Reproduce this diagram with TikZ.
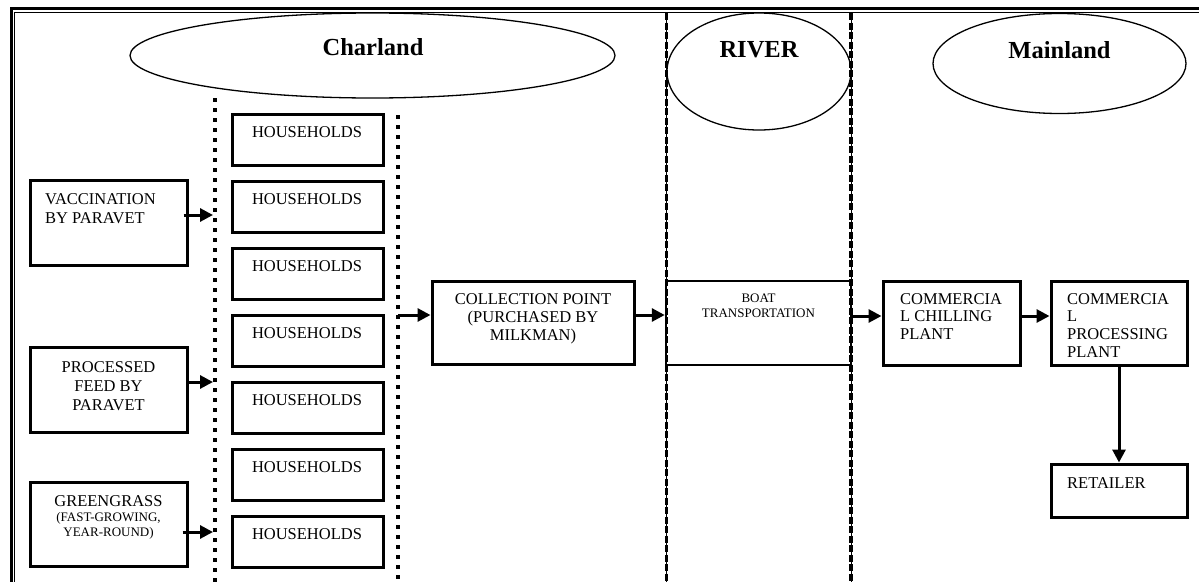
\documentclass[tikz,border=0pt]{standalone}
\usepackage{fontspec}
\setmainfont{Liberation Serif}
\usetikzlibrary{shapes.geometric,arrows.meta}
\begin{document}
\begin{tikzpicture}[x=1pt,y=-1pt,
  region/.style={draw, ellipse, line width=1.3pt, inner sep=0pt},
  regiontext/.style={anchor=base, inner sep=0pt, font=\fontsize{24.5}{28}\selectfont\bfseries},
  box/.style={draw, rectangle, line width=3pt, inner sep=0pt},
  txt/.style={inner sep=0pt, font=\fontsize{16.5}{19}\selectfont},
  smalltxt/.style={inner sep=0pt, font=\fontsize{13}{15}\selectfont},
  arr/.style={line width=3pt, -{Triangle[length=13pt,width=13pt]}},
  dotline/.style={line width=4pt, dash pattern=on 4pt off 6pt},
  riverthin/.style={line width=1pt},
  riverdash/.style={line width=3.5pt, dash pattern=on 7pt off 2.5pt}
]
\useasboundingbox (0,0) rectangle (1199,581);
\clip (0,0) rectangle (1199,581);
\fill[white] (0,0) rectangle (1199,581);

% frame
\draw[line width=3pt] (1300,8.5) -- (11.3,8.5) -- (11.3,700);
\draw[line width=1.2pt] (1300,12.8) -- (14.6,12.8) -- (14.6,700);

% regions
\node[region, minimum width=485pt, minimum height=85pt] (charland) at (372.5,55.5) {};
\node[regiontext] (charlandtxt) at (373,55) {Charland};
\node[region, minimum width=184pt, minimum height=117pt] (river) at (759,71.5) {};
\node[regiontext] (rivertxt) at (759,57) {RIVER};
\node[region, minimum width=253pt, minimum height=100pt] (mainland) at (1059.5,63.5) {};
\node[regiontext] (mainlandtxt) at (1059.5,58) {Mainland};

% boundary lines
\coordinate (dAtop) at (214.5,98);
\coordinate (dAbot) at (214.5,700);
\coordinate (dBtop) at (398,115);
\coordinate (dBbot) at (398,700);
\draw[dotline] (dAtop) -- (dAbot);
\draw[dotline] (dBtop) -- (dBbot);

% households
\foreach \i/\t in {1/113,2/180,3/247,4/314,5/381,6/448,7/515}{
  \node[box, minimum width=151pt, minimum height=51pt, anchor=north] (hh\i) at (307.5,\t) {};
  \node[txt, anchor=base] (hhtxt\i) at (307,\t+24.5) {HOUSEHOLDS};
}

% inputs
\node[box, minimum width=157pt, minimum height=85pt] (vac) at (108.5,222.5) {};
\node[txt, anchor=north west, align=left] (vactxt) at (45,193.2) {VACCINATION\\BY PARAVET};
\node[box, minimum width=157pt, minimum height=85pt] (feed) at (108.5,389.5) {};
\node[txt, anchor=north, align=center] (feedtxt) at (108.5,361.2) {PROCESSED\\FEED BY\\PARAVET};
\node[box, minimum width=157pt, minimum height=84pt] (grass) at (108.5,524) {};
\node[txt, anchor=base] (grasstxt) at (108.5,506) {GREENGRASS};
\node[smalltxt, anchor=north, align=center] (grasssub) at (108.5,512) {(FAST-GROWING,\\YEAR-ROUND)};

% chain
\node[box, minimum width=202pt, minimum height=83pt] (collect) at (533,322.5) {};
\node[txt, anchor=north, align=center, font=\fontsize{16.5}{18}\selectfont] (collecttxt) at (533,293.2) {COLLECTION POINT\\(PURCHASED BY\\MILKMAN)};
\node[box, line width=2.5pt, minimum width=185pt, minimum height=84pt] (boat) at (758.5,323) {};
\node[smalltxt, anchor=north, align=center] (boattxt) at (758.5,293.4) {BOAT\\TRANSPORTATION};
\node[box, minimum width=137pt, minimum height=84pt] (chill) at (951.5,323) {};
\node[txt, anchor=north west, align=left, font=\fontsize{16.5}{17.6}\selectfont] (chilltxt) at (900,293.2) {COMMERCIA\\L CHILLING\\PLANT};
\node[box, minimum width=136pt, minimum height=84pt] (proc) at (1119,323) {};
\node[txt, anchor=north west, align=left, font=\fontsize{16.5}{17.6}\selectfont] (proctxt) at (1067,293.2) {COMMERCIA\\L\\PROCESSING\\PLANT};
\node[box, minimum width=136pt, minimum height=53pt] (retail) at (1119,490.5) {};
\node[txt, anchor=base west] (retailtxt) at (1067,488) {RETAILER};

% river lines (drawn over the boat box)
\coordinate (r1top) at (666.5,13);
\coordinate (r1bot) at (666.5,700);
\coordinate (r2top) at (851,13);
\coordinate (r2bot) at (851,700);
\draw[riverthin] (r1top) -- (r1bot);
\draw[riverdash] (r1top) -- (r1bot);
\draw[riverthin] (r2top) -- (r2bot);
\draw[riverdash] (r2top) -- (r2bot);

% arrows
\coordinate (a1) at (213,215);
\coordinate (a2) at (213,382);
\coordinate (a3) at (213,532);
\draw[arr] ([xshift=-5pt]vac.east |- a1) -- (a1);
\draw[arr] (feed.east |- a2) -- (a2);
\draw[arr] ([xshift=-6pt]grass.east |- a3) -- (a3);
\coordinate (b1) at (398,315);
\draw[arr] (b1) -- (collect.west |- b1);
\draw[arr] (collect.east |- b1) -- (boat.west |- b1);
\coordinate (c1) at (851,316);
\draw[arr] (c1) -- (chill.west |- c1);
\draw[arr] (chill.east |- c1) -- (proc.west |- c1);
\draw[arr] (proc.south) -- (retail.north);
\end{tikzpicture}
\end{document}
